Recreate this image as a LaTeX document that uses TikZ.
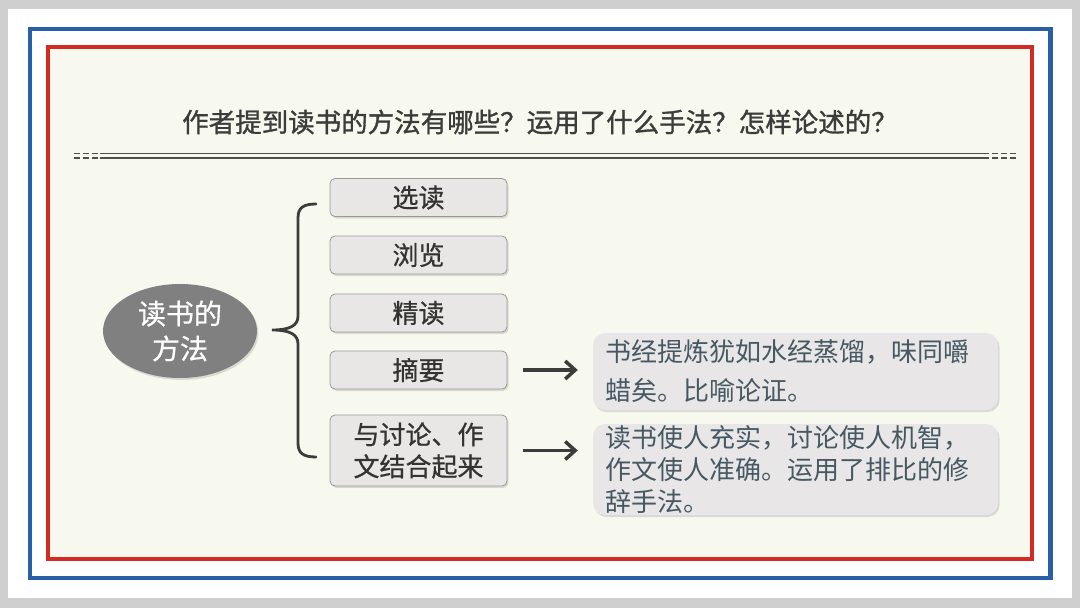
\documentclass[tikz,border=0pt]{standalone}
\usepackage{fontspec}
\newfontfamily\cjk{Noto Sans CJK SC}
\newfontfamily\cjkmed[FakeBold=1.2]{Noto Sans CJK SC}
\newfontfamily\cjksemi[FakeBold=0.6]{Noto Sans CJK SC}
\usetikzlibrary{shapes.geometric,shadows,arrows.meta}
\definecolor{pagegray}{HTML}{CFCFCF}
\definecolor{cream}{HTML}{F8F9EE}
\definecolor{frameblue}{HTML}{2A5FA8}
\definecolor{framered}{HTML}{D42A22}
\definecolor{titlecol}{HTML}{3C3C3C}
\definecolor{rulecol}{HTML}{505048}
\definecolor{ellgray}{HTML}{808080}
\definecolor{boxfill}{HTML}{E9E7E5}
\definecolor{boxline}{HTML}{9A9896}
\definecolor{boxtext}{HTML}{333333}
\definecolor{rtext}{HTML}{465862}
\definecolor{rfill}{HTML}{E8E6E6}
\definecolor{arrcol}{HTML}{3C3C3C}
\tikzset{
  methodbox/.style={rectangle, rounded corners=5pt, fill=boxfill, draw=boxline, line width=0.8pt,
    minimum width=177pt, minimum height=38pt, inner sep=0pt, text=boxtext, align=center,
    font=\cjksemi\fontsize{26}{32}\selectfont,
    drop shadow={shadow xshift=1.5pt, shadow yshift=-2pt, opacity=0.25}},
  notebox/.style={rectangle, rounded corners=12pt, fill=rfill, draw=none,
    minimum width=405pt, inner xsep=12pt, inner ysep=0pt, text width=381pt, align=left, text=rtext,
    drop shadow={shadow xshift=1.5pt, shadow yshift=-2pt, opacity=0.25}},
  conn/.style={draw=arrcol, line width=3.5pt, -{Straight Barb[length=10pt,width=18pt]}},
  bracepath/.style={draw=titlecol, line width=2.8pt, line cap=round},
  rulepath/.style={draw=rulecol, line width=1.8pt},
  dashrule/.style={draw=rulecol, line width=1.8pt, dash pattern=on 6pt off 3pt}
}
\begin{document}
\begin{tikzpicture}[x=1pt,y=-1pt]
\useasboundingbox (0,0) rectangle (1080,608);
% page
\fill[pagegray] (0,0) rectangle (1080,608);
\fill[white] (8,9) rectangle (1072,598);
\fill[cream] (48,47) rectangle (1032,559);
\draw[frameblue, line width=4.5pt] (30,29) rectangle (1050.5,578);
\draw[framered, line width=4.5pt] (48,47) rectangle (1032,559);
% title
\node[text=titlecol, font=\cjkmed\fontsize{26.5}{30}\selectfont] (title) at (540,122)
  {作者提到读书的方法有哪些？运用了什么手法？怎样论述的？};
% rules
\draw[rulepath] (100,153.5) -- (989,153.5);
\draw[rulepath] (100,158) -- (989,158);
\draw[dashrule] (74,153.5) -- (99,153.5);
\draw[dashrule] (74,158) -- (99,158);
\draw[dashrule] (992,153.5) -- (1017,153.5);
\draw[dashrule] (992,158) -- (1017,158);
% ellipse
\node[ellipse, fill=ellgray, minimum width=154pt, minimum height=94pt, inner sep=0pt,
  text=white, align=center, font=\cjksemi\fontsize{28}{35}\selectfont,
  drop shadow={shadow xshift=1.5pt, shadow yshift=-2pt, opacity=0.25}] (root) at (180,331)
  {读书的\\方法};
% brace
\draw[bracepath] (316,204) .. controls (303,204) and (298,208) .. (298,218) -- (298,316)
  .. controls (298,325) and (291,330) .. (272,330)
  .. controls (291,330) and (298,335) .. (298,344) -- (298,443)
  .. controls (298,453) and (303,457) .. (316,457);
% method boxes
\node[methodbox] (b1) at (418.5,197.5) {选读};
\node[methodbox] (b2) at (418.5,255) {浏览};
\node[methodbox] (b3) at (418.5,313) {精读};
\node[methodbox] (b4) at (418.5,370) {摘要};
\node[methodbox, minimum height=71pt] (b5) at (418.5,450.5) {与讨论、作\\文结合起来};
% note boxes
\node[notebox, minimum height=77pt, font=\cjk\fontsize{26}{39}\selectfont] (r1) at (795.5,371.5)
  {书经提炼犹如水经蒸馏，味同嚼\\蜡矣。比喻论证。};
\node[notebox, minimum height=91pt, font=\cjk\fontsize{26}{32}\selectfont] (r2) at (795.5,469.5)
  {读书使人充实，讨论使人机智，\\作文使人准确。运用了排比的修\\辞手法。};
% arrows
\draw[conn, shorten <=16pt, shorten >=15pt] (b4.east) -- (b4.east -| r1.west);
\draw[conn, shorten <=16pt, shorten >=15pt] (b5.east) -- (b5.east -| r2.west);
\end{tikzpicture}
\end{document}
